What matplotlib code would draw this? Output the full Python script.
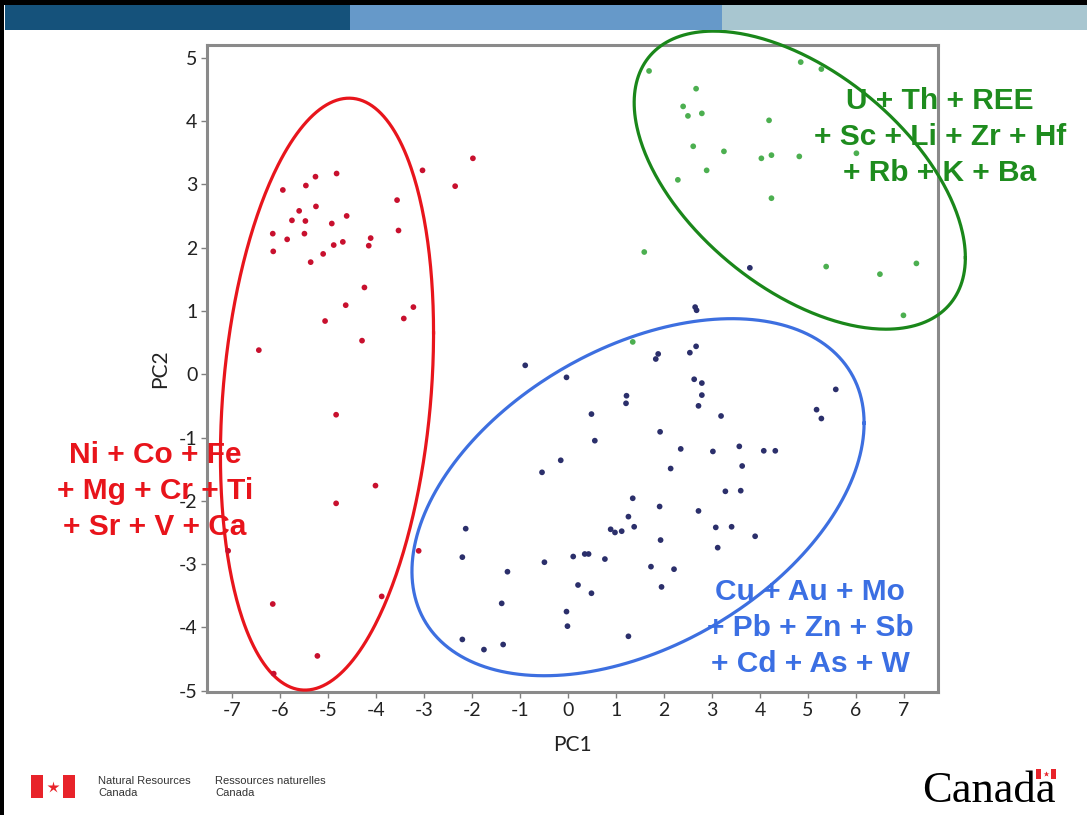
"""PCA score plot of soil geochemistry with three element-association groups."""

import numpy as np
import matplotlib

matplotlib.use("Agg")
import matplotlib.pyplot as plt
from matplotlib.axes import Axes
from matplotlib.figure import Figure
from matplotlib.lines import Line2D
from matplotlib.patches import Rectangle

plt.rcParams["axes.unicode_minus"] = False

FIG_W, FIG_H = 1087, 815

# --- scores --------------------------------------------------------------
red_pc1 = [-3.03, -2.35, -1.98, -4.82, -5.26, -5.94, -5.46, -3.56, -5.60, -5.25,
           -5.75, -5.47, -4.61, -4.92, -6.15, -5.49, -3.53, -5.85, -4.69, -4.88,
           -4.11, -4.15, -6.14, -5.10, -5.36, -4.24, -4.63, -3.22, -3.42, -5.06,
           -4.29, -6.44, -4.83, -4.01, -4.83, -7.08, -3.11, -6.15, -3.88, -5.22,
           -6.13]
red_pc2 = [3.22, 2.97, 3.41, 3.17, 3.12, 2.91, 2.98, 2.75, 2.58, 2.65,
           2.43, 2.42, 2.50, 2.38, 2.22, 2.22, 2.27, 2.13, 2.09, 2.04,
           2.15, 2.03, 1.94, 1.90, 1.77, 1.37, 1.09, 1.06, 0.88, 0.84,
           0.53, 0.38, -0.64, -1.76, -2.04, -2.79, -2.79, -3.63, -3.51, -4.45,
           -4.73]

blue_pc1 = [2.65, 2.68, -0.89, -0.03, 1.88, 1.83, 2.67, 2.54, 1.22, 1.21,
            2.63, 2.79, 2.79, 2.72, 0.49, 0.56, 1.92, 2.35, -0.15, -0.54,
            2.14, 1.35, 1.91, 2.72, 1.26, 1.38, 0.89, 0.98, 1.12, -2.13,
            -2.20, 1.93, -1.26, -0.49, 0.11, 0.35, 0.43, 0.77, 1.73, 2.21,
            0.21, 0.49, 1.95, -1.38, -0.03, -0.01, 1.26, -2.20, -1.75, -1.35,
            3.19, 5.58, 5.18, 5.28, 3.02, 3.57, 4.08, 4.32, 3.63, 3.28,
            3.60, 3.08, 3.41, 3.90, 3.12, 3.79]
blue_pc2 = [1.06, 1.01, 0.14, -0.05, 0.32, 0.24, 0.44, 0.34, -0.34, -0.46,
            -0.08, -0.14, -0.33, -0.50, -0.63, -1.05, -0.91, -1.18, -1.36, -1.55,
            -1.49, -1.96, -2.09, -2.16, -2.25, -2.41, -2.45, -2.50, -2.48, -2.44,
            -2.89, -2.62, -3.12, -2.97, -2.88, -2.84, -2.84, -2.92, -3.04, -3.08,
            -3.33, -3.46, -3.36, -3.62, -3.75, -3.98, -4.14, -4.19, -4.35, -4.27,
            -0.66, -0.24, -0.56, -0.70, -1.22, -1.14, -1.21, -1.21, -1.45, -1.85,
            -1.84, -2.42, -2.41, -2.56, -2.74, 1.68]

green_pc1 = [1.69, 2.67, 2.40, 2.50, 2.79, 4.19, 2.61, 3.25, 4.03, 4.24,
             4.82, 6.01, 2.89, 2.29, 4.24, 1.59, 5.38, 6.50, 7.26, 6.99,
             4.85, 5.28, 1.35]
green_pc2 = [4.79, 4.51, 4.23, 4.08, 4.12, 4.01, 3.60, 3.52, 3.41, 3.46,
             3.44, 3.49, 3.22, 3.07, 2.78, 1.93, 1.70, 1.58, 1.75, 0.93,
             4.93, 4.82, 0.51]

# group ellipses: (centre pc1, centre pc2, half-width, half-height, correlation)
red_ellipse = (-5.02, -0.315, 2.22, 4.675, 0.207)
blue_ellipse = (1.46, -1.943, 4.71, 2.82, 0.415)
green_ellipse = (4.83, 3.065, 3.45, 2.354, -0.52)

red_label = "Ni + Co + Fe\n+ Mg + Cr + Ti\n+ Sr + V + Ca"
blue_label = "Cu + Au + Mo\n+ Pb + Zn + Sb\n+ Cd + As + W"
green_label = "U + Th + REE\n+ Sc + Li + Zr + Hf\n+ Rb + K + Ba"

x_ticks = list(range(-7, 8))
y_ticks = list(range(-5, 6))


def px(x: float, y: float) -> tuple[float, float]:
    """Slide pixel position -> figure fraction."""
    return x / FIG_W, 1 - y / FIG_H


def draw_ellipse(ax: Axes, params: tuple, color: str) -> None:
    cx, cy, hw, hh, rho = params
    t = np.linspace(0, 2 * np.pi, 400)
    x = cx + hw * np.cos(t)
    y = cy + hh * (rho * np.cos(t) + np.sqrt(1 - rho**2) * np.sin(t))
    ax.plot(x, y, color=color, lw=2.3, clip_on=False, zorder=3)


def draw_slide_chrome(fig: Figure) -> None:
    # header band
    for x0, x1, c in [(5, 350, "#15527b"), (350, 722, "#6699c9"), (722, 1087, "#a8c6d0")]:
        fig.add_artist(Rectangle(px(x0, 30), (x1 - x0) / FIG_W, 25 / FIG_H,
                                 transform=fig.transFigure, color=c, lw=0))
    fig.add_artist(Rectangle((0, 1 - 5 / FIG_H), 1, 5 / FIG_H,
                             transform=fig.transFigure, color="black", lw=0))
    fig.add_artist(Rectangle((0, 0), 4 / FIG_W, 1,
                             transform=fig.transFigure, color="black", lw=0))

    # NRCan signature
    for x0 in (31, 63):
        fig.add_artist(Rectangle(px(x0, 798), 12 / FIG_W, 23 / FIG_H,
                                 transform=fig.transFigure, color="#e8232a", lw=0))
    fig.add_artist(Line2D([px(53, 787)[0]], [px(53, 787)[1]], transform=fig.transFigure,
                          marker="*", ms=9, color="#e8232a", mec="none"))
    fig.text(*px(98, 787), "Natural Resources\nCanada", fontsize=8, color="#333333",
             family="Liberation Sans", va="center", linespacing=1.2)
    fig.text(*px(215, 787), "Ressources naturelles\nCanada", fontsize=8, color="#333333",
             family="Liberation Sans", va="center", linespacing=1.2)

    # Canada wordmark
    fig.text(*px(922, 802), "Canada", fontsize=32, family="Liberation Serif",
             color="black", va="baseline")
    fig.add_artist(Rectangle(px(1036, 779), 20 / FIG_W, 10 / FIG_H,
                             transform=fig.transFigure, color="#e8232a", lw=0))
    fig.add_artist(Rectangle(px(1041, 779), 10 / FIG_W, 10 / FIG_H,
                             transform=fig.transFigure, color="white", lw=0))
    fig.add_artist(Line2D([px(1046, 774)[0]], [px(1046, 774)[1]], transform=fig.transFigure,
                          marker="*", ms=4, color="#e8232a", mec="none"))


def plot_pca() -> Figure:
    fig = plt.figure(figsize=(FIG_W / 100, FIG_H / 100), dpi=100)
    ax = fig.add_axes([207 / FIG_W, 1 - 692 / FIG_H, (938 - 207) / FIG_W, (692 - 45) / FIG_H])

    ax.scatter(red_pc1, red_pc2, s=17, color="#c8102e", edgecolors="none", zorder=4)
    ax.scatter(blue_pc1, blue_pc2, s=17, color="#2b2f6b", edgecolors="none", zorder=4)
    ax.scatter(green_pc1, green_pc2, s=17, color="#4caf50", edgecolors="none", zorder=4)

    draw_ellipse(ax, red_ellipse, "#e8151c")
    draw_ellipse(ax, blue_ellipse, "#3d6fe0")
    draw_ellipse(ax, green_ellipse, "#1a871a")

    ax.set_xlim(-7.52, 7.71)
    ax.set_ylim(-5.02, 5.2)
    ax.set_xticks(x_ticks)
    ax.set_yticks(y_ticks)
    ax.tick_params(direction="out", length=4, width=1, color="#808080",
                   labelsize=14, labelcolor="#222222", pad=3)
    for lab in ax.get_xticklabels() + ax.get_yticklabels():
        lab.set_family("Lato")
    for sp in ax.spines.values():
        sp.set_color("#8a8a8a")
        sp.set_linewidth(2.2)
    ax.set_xlabel("PC1", fontsize=15, family="Lato", color="#222222", labelpad=12)
    ax.set_ylabel("PC2", fontsize=15, family="Lato", color="#222222", labelpad=6)

    label_kw = dict(fontsize=21.5, weight="bold", family="Liberation Sans",
                    ha="center", va="center", linespacing=1.35, zorder=5)
    fig.text(*px(155, 491), red_label, color="#e8141b", **label_kw)
    fig.text(*px(810, 628), blue_label, color="#3b6fe3", **label_kw)
    fig.text(*px(940, 137), green_label, color="#1e8c1e", **label_kw)

    draw_slide_chrome(fig)
    return fig


if __name__ == "__main__":
    fig = plot_pca()
    fig.savefig("out.png", dpi=100)
